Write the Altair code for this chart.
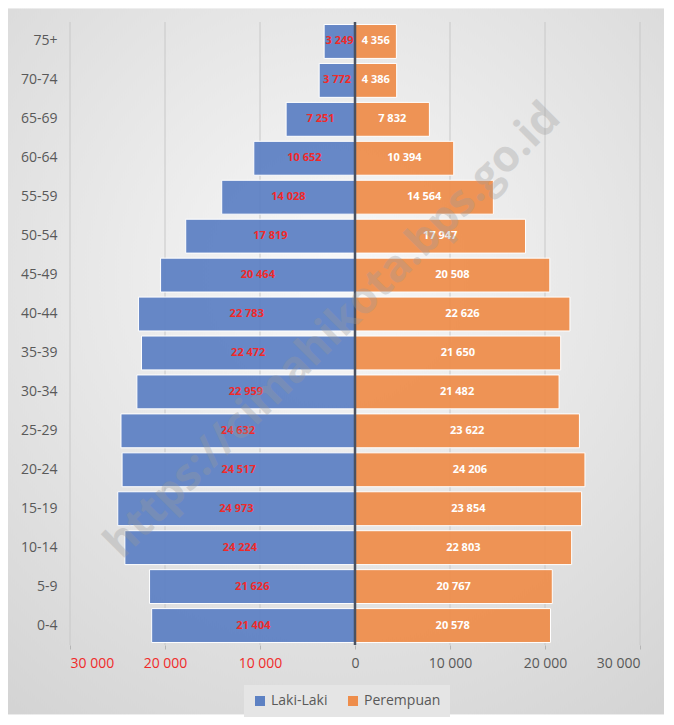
import altair as alt
import pandas as pd

ages = ["75+", "70-74", "65-69", "60-64", "55-59", "50-54", "45-49", "40-44",
        "35-39", "30-34", "25-29", "20-24", "15-19", "10-14", "5-9", "0-4"]
laki = [3249, 3772, 7251, 10652, 14028, 17819, 20464, 22783,
        22472, 22959, 24632, 24517, 24973, 24224, 21626, 21404]
perempuan = [4356, 4386, 7832, 10394, 14564, 17947, 20508, 22626,
             21650, 21482, 23622, 24206, 23854, 22803, 20767, 20578]
series = ["Laki-Laki", "Perempuan"]
x_ticks = [-30000, -20000, -10000, 0, 10000, 20000, 30000]


def fmt(v):
    return f"{v:,}".replace(",", " ")


rows = []
for a, m, f in zip(ages, laki, perempuan):
    rows.append({"age": a, "sex": series[0], "value": -m, "mid": -m / 2, "label": fmt(m)})
    rows.append({"age": a, "sex": series[1], "value": f, "mid": f / 2, "label": fmt(f)})
df = pd.DataFrame(rows)

W, H = 570, 623
FONT = "Open Sans"
GRAY = "#595959"
RED = "#f02a2a"

y_enc = alt.Y("age:N", sort=ages, title=None,
              scale=alt.Scale(paddingInner=0.13, paddingOuter=0.065),
              axis=alt.Axis(labelFontSize=14, labelColor=GRAY, labelFont=FONT, zindex=1,
                            labelPadding=13, domain=False, ticks=False, grid=False))

bg = alt.Chart(pd.DataFrame({"k": [0]})).mark_rect(
    color=alt.RadialGradient(gradient="radial",
                             stops=[alt.GradientStop(color="#f8f8f8", offset=0),
                                    alt.GradientStop(color="#d3d3d3", offset=1)],
                             x1=0.5, y1=0.38, x2=0.5, y2=0.38, r1=0, r2=0.78)
).encode(x=alt.value(-62), x2=alt.value(594), y=alt.value(-13.5), y2=alt.value(692.5))

grid = alt.Chart(pd.DataFrame({"g": x_ticks})).mark_rule(color="#c8c8c8", strokeWidth=1).encode(
    x=alt.X("g:Q"))

bars = alt.Chart(df).mark_bar(stroke="white", strokeWidth=1, fillOpacity=0.94).encode(
    x=alt.X("value:Q", title=None,
            scale=alt.Scale(domain=[-30000, 30000], nice=False),
            axis=alt.Axis(values=x_ticks, grid=False, zindex=1,
                          domain=False, ticks=True, tickColor="#b5b5b5", tickSize=4,
                          labelPadding=7, labelFontSize=14, labelFont=FONT,
                          labelColor=alt.condition("datum.value < 0", alt.value(RED), alt.value(GRAY)),
                          labelExpr="replace(format(abs(datum.value), ','), ',', ' ')")),
    y=y_enc,
    color=alt.Color("sex:N", title=None,
                    scale=alt.Scale(domain=series, range=["#5d81c3", "#ee8d4b"]),
                    legend=alt.Legend(orient="none", legendX=174, legendY=663, direction="horizontal",
                                      symbolType="square", symbolSize=100, symbolStrokeWidth=0,
                                      labelFontSize=14, labelFont=FONT, labelColor=GRAY,
                                      columnPadding=18, padding=9, fillColor="#e5e5e5",
                                      labelOffset=4)),
)

txt_m = alt.Chart(df).transform_filter(alt.datum.sex == series[0]).mark_text(
    font=FONT, fontSize=11, fontWeight="bold", color=RED
).encode(x="mid:Q", y=alt.Y("age:N", sort=ages), text="label:N")

txt_f = alt.Chart(df).transform_filter(alt.datum.sex == series[1]).mark_text(
    font=FONT, fontSize=11, fontWeight="bold", color="white"
).encode(x="mid:Q", y=alt.Y("age:N", sort=ages), text="label:N")

zero = alt.Chart(pd.DataFrame({"z": [0]})).mark_rule(color="#4a5262", strokeWidth=2.5).encode(
    x="z:Q")

wm = alt.Chart(pd.DataFrame({"t": ["https://cimahikota.bps.go.id"]})).mark_text(
    font=FONT, fontSize=44, fontWeight="bold", color="#9a9a9a", opacity=0.32, angle=315,
    align="center", baseline="middle"
).encode(x=alt.value(263), y=alt.value(309), text="t:N")

chart = alt.layer(bg, grid, bars, txt_m, txt_f, zero, wm).properties(
    width=W, height=H, padding=0
).configure_view(stroke=None).configure(background="white")

chart.save("out.html", embed_options={"renderer": "svg", "actions": False})
